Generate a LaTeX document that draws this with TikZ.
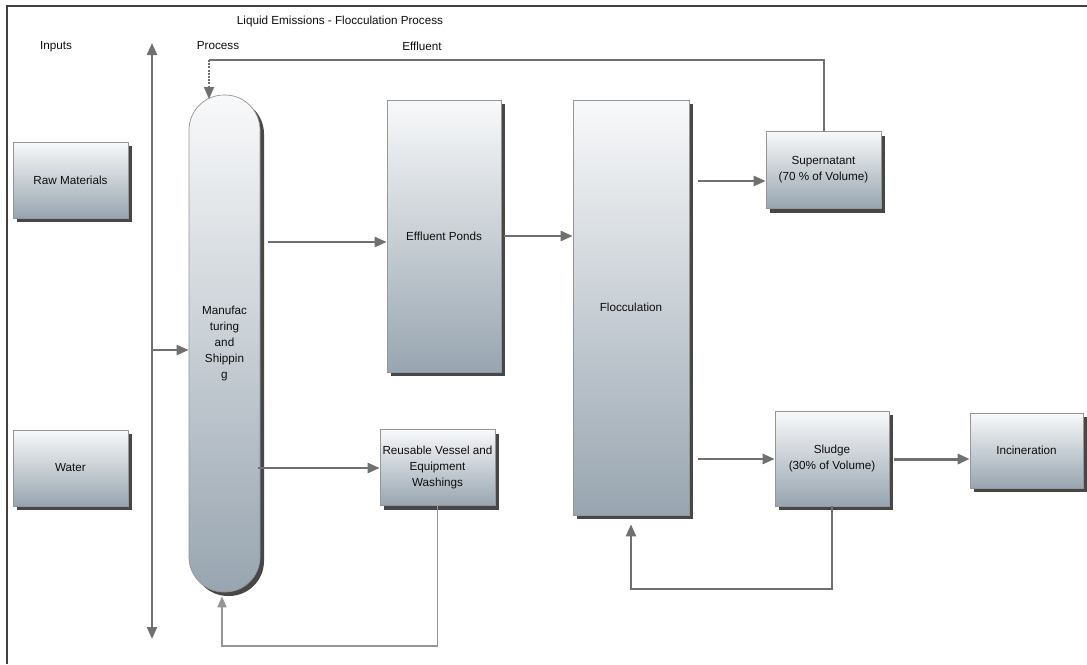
\documentclass[tikz,border=0pt]{standalone}
\usepackage{fontspec}
\setmainfont{Liberation Sans}
\usetikzlibrary{arrows.meta,shadows,calc}
\definecolor{topc}{RGB}{248,249,250}
\definecolor{botc}{RGB}{152,165,176}
\definecolor{edgec}{RGB}{150,150,150}
\definecolor{arrc}{RGB}{112,112,112}
\definecolor{retc}{RGB}{150,150,150}
\definecolor{txtc}{RGB}{15,15,15}
\begin{document}
\begin{tikzpicture}[x=1pt,y=-1pt,
  font=\fontsize{11.7}{16}\selectfont, text=txtc,
  box/.style={draw=edgec, line width=0.7pt, top color=topc, bottom color=botc,
    align=center, inner sep=2pt,
    drop shadow={shadow xshift=4pt, shadow yshift=-4pt, fill=black!72, opacity=1}},
  tip/.style={-{Triangle[length=12pt,width=10pt]}},
  flow/.style={draw=arrc, line width=2.4pt, tip},
  ret/.style={draw=arrc, line width=2pt},
  lbl/.style={inner sep=0pt}]
\useasboundingbox (0,0) rectangle (1087,664);
\fill[white] (0,0) rectangle (1087,664);
% frame
\draw[black!75, line width=1.6pt] (7,664) -- (7,6) -- (1087,6);
% headings
\node[lbl] (title) at (340,21) {Liquid Emissions - Flocculation Process};
\node[lbl] (inputs) at (56,47) {Inputs};
\node[lbl] (process) at (218,46) {Process};
\node[lbl] (effluent) at (422,46) {Effluent};
% boxes
\node[box, minimum width=115pt, minimum height=76pt] (raw) at (70.5,180) {Raw Materials};
\node[box, minimum width=115pt, minimum height=76pt] (water) at (70.5,468) {Water};
\node[box, rounded corners=35pt, minimum width=71pt, minimum height=497pt] (caps) at (224.5,343.5) {Manufac\\turing\\and\\Shippin\\g};
\node[box, minimum width=114pt, minimum height=272pt] (ponds) at (444,236) {Effluent Ponds};
\node[box, minimum width=115pt, minimum height=76pt] (reuse) at (437.5,467.5) {Reusable Vessel and\\Equipment\\Washings};
\node[box, minimum width=116pt, minimum height=415pt] (floc) at (631,307.5) {Flocculation};
\node[box, minimum width=115pt, minimum height=77pt] (sup) at (823.5,170) {Supernatant\\(70 \% of Volume)};
\node[box, minimum width=114pt, minimum height=95pt] (sludge) at (832,458.5) {Sludge\\(30\% of Volume)};
\node[box, minimum width=113pt, minimum height=75pt] (incin) at (1026.5,450.5) {Incineration};
% vertical double arrow
\coordinate (vt) at (152,43);
\coordinate (vb) at (152,639);
\draw[draw=arrc, line width=2.2pt, {Triangle[length=12pt,width=10pt]}-{Triangle[length=12pt,width=10pt]}] (vt) -- (vb);
\coordinate (vin) at (152,350);
\draw[flow] (vin) -- (vin -| caps.west);
% process arrows
\coordinate (c1) at (268,242);
\draw[flow] (c1) -- (c1 -| ponds.west);
\coordinate (c2) at (258,468);
\draw[flow] (c2) -- (c2 -| reuse.west);
\coordinate (p1) at (504,236);
\draw[flow] (p1) -- (p1 -| floc.west);
\coordinate (f1) at (698,181);
\draw[flow] (f1) -- (f1 -| sup.west);
\coordinate (f2) at (698,459);
\draw[flow] (f2) -- (f2 -| sludge.west);
\coordinate (s1) at (894,459);
\draw[flow, line width=3pt] (s1) -- (s1 -| incin.west);
% supernatant feedback
\coordinate (fb) at (209,60);
\draw[ret] (sup.north) |- (fb);
\draw[draw=arrc, line width=1.8pt, dash pattern=on 2pt off 1.2pt, tip] (fb) -- (209,99);
% sludge loop
\coordinate (sl) at (631,589);
\draw[ret, tip] (sludge.south) |- (sl) -- ($(sl |- floc.south)+(0,9)$);
% reusable loop
\coordinate (rl) at (222,646);
\draw[draw=retc, line width=1.5pt, -{Triangle[length=11pt,width=9pt]}] (reuse.south) |- (rl) -- ($(rl |- caps.south)+(0,4)$);
\end{tikzpicture}
\end{document}
